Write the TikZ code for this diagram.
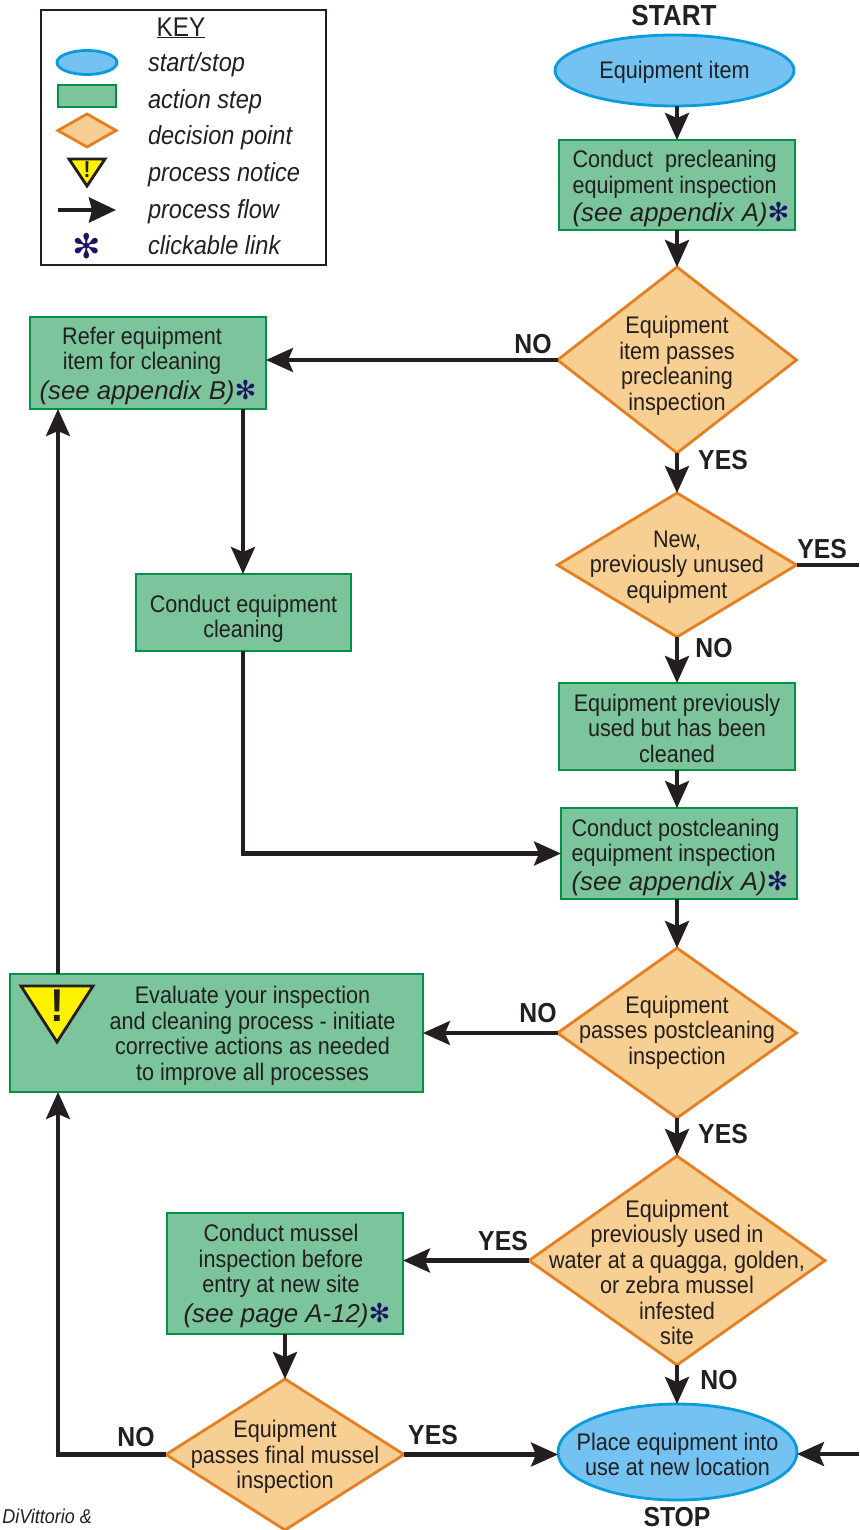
\documentclass[tikz,border=0pt]{standalone}
\usepackage{fontspec}
\usepackage{array}
\setmainfont[FakeStretch=0.9]{Liberation Sans}
\newfontfamily\djv{DejaVu Sans}
\newfontfamily\widef{Liberation Sans}
\usetikzlibrary{shapes.geometric,arrows.meta}
\definecolor{gfill}{HTML}{7BC49C}
\definecolor{gline}{HTML}{009245}
\definecolor{ofill}{HTML}{F8CF92}
\definecolor{oline}{HTML}{E67E22}
\definecolor{bfill}{HTML}{73C2F1}
\definecolor{bline}{HTML}{0A9BDC}
\definecolor{yfill}{HTML}{FFF200}
\definecolor{ink}{HTML}{231F20}
\definecolor{starc}{HTML}{1B1464}
\def\tdy{0pt}
\newcommand{\ctr}[2][0pt]{\smash{\raisebox{\dimexpr-0.33em-\tdy\relax}{\makebox[0pt][c]{\hspace*{#1}\hspace*{#1}\begin{tabular}{@{}c@{}}#2\end{tabular}}}}}
\newcommand{\ctrl}[2][0pt]{\smash{\raisebox{\dimexpr-0.33em-\tdy\relax}{\makebox[0pt][c]{\hspace*{#1}\hspace*{#1}\begin{tabular}{@{}l@{}}#2\end{tabular}}}}}
\newcommand{\lnk}{{\color{starc}\djv\fontsize{26}{25}\selectfont ✻}}
\newcommand{\itl}[1]{{\widef\itshape\fontsize{25.8}{25.5}\selectfont #1}}
\newcommand{\shl}[1]{#1\hspace*{12pt}\mbox{}}
\tikzset{
 x=1pt,y=-1pt,
 tdown/.code={\def\tdy{#1}},
 base/.style={outer sep=0pt,inner sep=0pt,text=ink,font=\fontsize{24}{25.5}\selectfont},
 actbox/.style={base,rectangle,draw=gline,fill=gfill,line width=2.8pt},
 decbox/.style={base,diamond,draw=oline,fill=ofill,line width=2.8pt},
 endbox/.style={base,ellipse,draw=bline,fill=bfill,line width=2.8pt},
 flow/.style={draw=ink,line width=4.2pt,-{Stealth[length=27pt,width=24pt,inset=5pt]}},
 plain/.style={draw=ink,line width=4.2pt},
 lab/.style={outer sep=0pt,inner sep=0pt,text=ink,font=\fontsize{27.5}{27.5}\selectfont\bfseries},
 keylab/.style={outer sep=0pt,inner sep=0pt,anchor=west,text=ink,font=\fontsize{26.2}{26}\selectfont\itshape},
 warn/.style={draw=ink,fill=yfill,line width=2.8pt,line join=miter},
 bang/.style={outer sep=0pt,inner sep=0pt,text=ink,font=\bfseries},
}
\begin{document}
\begin{tikzpicture}
\useasboundingbox (0,0) rectangle (859,1530);
% key
\node[draw=ink,line width=2pt,minimum width=285pt,minimum height=255pt,inner sep=0pt,outer sep=0pt] (keybox) at (183.5,137.5) {};
\node[base,font=\fontsize{27}{27}\selectfont] (keyt) at (181,28) {\underline{KEY}};
\node[endbox,minimum width=60pt,minimum height=24pt] (k1) at (87,62.5) {};
\node[actbox,minimum width=58pt,minimum height=22pt] (k2) at (87,96) {};
\node[decbox,minimum width=58pt,minimum height=33pt] (k3) at (87,130.5) {};
\draw[warn] (69,159) -- (105,159) -- (87,186) -- cycle;
\node[bang,font=\fontsize{23}{23}\selectfont\bfseries] (k4) at (87,170) {!};
\coordinate (k5a) at (58,210); \coordinate (k5b) at (116,210);
\draw[flow,-{Stealth[length=27pt,width=25pt,inset=3pt]}] (k5a) -- (k5b);
\node[outer sep=0pt,inner sep=0pt,text=starc,font=\djv\fontsize{34}{34}\selectfont] (k6) at (87,246) {✻};
\node[keylab] (l1) at (148,65) {start/stop};
\node[keylab] (l2) at (148,102) {action step};
\node[keylab] (l3) at (148,138) {decision point};
\node[keylab] (l4) at (148,175) {process notice};
\node[keylab] (l5) at (148,212) {process flow};
\node[keylab] (l6) at (148,245.5) {clickable link};
% right column
\node[lab,font=\fontsize{29}{29}\selectfont\bfseries] (start) at (674,16) {START};
\node[endbox,tdown=1.5pt,minimum width=239pt,minimum height=71pt] (e1) at (674.5,70.5) {\ctr{Equipment item}};
\node[actbox,tdown=2.5pt,minimum width=236pt,minimum height=90pt] (a1) at (677,185) {\ctrl[4pt]{Conduct~ precleaning\\equipment inspection\\[1pt]\itl{(see appendix A)}\lnk}};
\node[decbox,tdown=5pt,minimum width=239pt,minimum height=186pt] (d1) at (677,360) {\ctr{Equipment\\item passes\\precleaning\\inspection}};
\node[actbox,tdown=2pt,minimum width=236pt,minimum height=92pt] (refer) at (148,363) {\ctr{\shl{Refer equipment}\\\shl{item for cleaning}\\[3pt]\itl{(see appendix B)}\lnk}};
\node[decbox,tdown=1pt,minimum width=239pt,minimum height=144pt] (d2) at (677,565) {\ctr{New,\\previously unused\\equipment}};
\node[actbox,tdown=3.5pt,minimum width=236pt,minimum height=87pt] (a2) at (677,726.5) {\ctr{Equipment previously\\used but has been\\cleaned}};
\node[actbox,tdown=5.5pt,minimum width=215pt,minimum height=77pt] (clean) at (243.5,612.5) {\ctr{Conduct equipment\\cleaning}};
\node[actbox,tdown=3pt,minimum width=236pt,minimum height=91pt] (a3) at (679,853.5) {\ctrl[1pt]{Conduct postcleaning\\equipment inspection\\[2pt]\itl{(see appendix A)}\lnk}};
\node[decbox,tdown=-1pt,minimum width=239pt,minimum height=170pt] (d3) at (677,1033) {\ctr{Equipment\\passes postcleaning\\inspection}};
\node[actbox,tdown=2pt,minimum width=413pt,minimum height=118pt] (eval) at (216.5,1033) {\ctr[36pt]{Evaluate your inspection\\and cleaning process - initiate\\corrective actions as needed\\to improve all processes}};
\draw[warn] (21,986) -- (93,986) -- (57,1042) -- cycle;
\node[bang,font=\fontsize{46}{46}\selectfont\bfseries] (evb) at (57,1006) {!};
\node[decbox,tdown=13.5pt,minimum width=296pt,minimum height=209pt] (d4) at (677,1260.5) {\ctr{Equipment\\previously used in\\water at a quagga, golden,\\or zebra mussel\\infested\\site}};
\node[actbox,tdown=2pt,minimum width=236pt,minimum height=121pt] (a4) at (285,1273.5) {\ctr[2pt]{\shl{Conduct mussel}\\\shl{inspection before}\\\shl{entry at new site}\\[3pt]\itl{(see page A-12)}\lnk}};
\node[decbox,tdown=2pt,minimum width=238pt,minimum height=151pt] (d5) at (285,1454.5) {\ctr{Equipment\\passes final mussel\\inspection}};
\node[endbox,tdown=4pt,minimum width=239pt,minimum height=96pt] (e2) at (677.5,1452) {\ctr{Place equipment into\\use at new location}};
% labels
\node[lab] (no1) at (533,344) {NO};
\node[lab] (yes1) at (723,460) {YES};
\node[lab] (yes2) at (822,549) {YES};
\node[lab] (no2) at (714,648) {NO};
\node[lab] (no3) at (538,1013) {NO};
\node[lab] (yes3) at (723,1134) {YES};
\node[lab] (yes4) at (503,1241) {YES};
\node[lab] (no4) at (719,1380) {NO};
\node[lab] (no5) at (136,1437) {NO};
\node[lab] (yes5) at (433,1435) {YES};
\node[lab] (stop) at (677,1517) {STOP};
\node[outer sep=0pt,inner sep=0pt,anchor=east,text=ink,font=\fontsize{20}{20}\selectfont\itshape] (credit) at (92,1516) {DiVittorio \&};
% connectors
\coordinate (offr) at (859,0);
\coordinate (offr2) at (859,1454);
\coordinate (colL) at (58,0);
\coordinate (colC) at (243,0);
\draw[flow] (e1.south -| a1.north) -- (a1.north);
\draw[flow] (a1.south) -- (d1.north);
\draw[flow] (d1.west) -- (refer.east |- d1.west);
\draw[flow] (d1.south) -- (d2.north);
\draw[plain] (d2.east) -- (offr |- d2.east);
\draw[flow] (d2.south) -- (a2.north -| d2.south);
\draw[flow] (a2.south -| d2.south) -- (a3.north -| d2.south);
\draw[flow] (colC |- refer.south) -- (colC |- clean.north);
\draw[flow] (colC |- clean.south) |- (a3.west);
\draw[flow] (a3.south -| d3.north) -- (d3.north);
\draw[flow] (d3.west) -- (eval.east |- d3.west);
\draw[flow] (colL |- eval.north) -- (colL |- refer.south);
\draw[flow] (d3.south) -- (d4.north);
\draw[flow] (d4.west) -- (a4.east |- d4.west);
\draw[flow] (a4.south) -- (d5.north);
\draw[flow] (d5.west) -| (colL |- eval.south);
\draw[flow] (d5.east) -- (e2.west |- d5.east);
\draw[flow] (d4.south) -- (e2.north -| d4.south);
\draw[flow] (offr2) -- (e2.east |- offr2);
\end{tikzpicture}
\end{document}
